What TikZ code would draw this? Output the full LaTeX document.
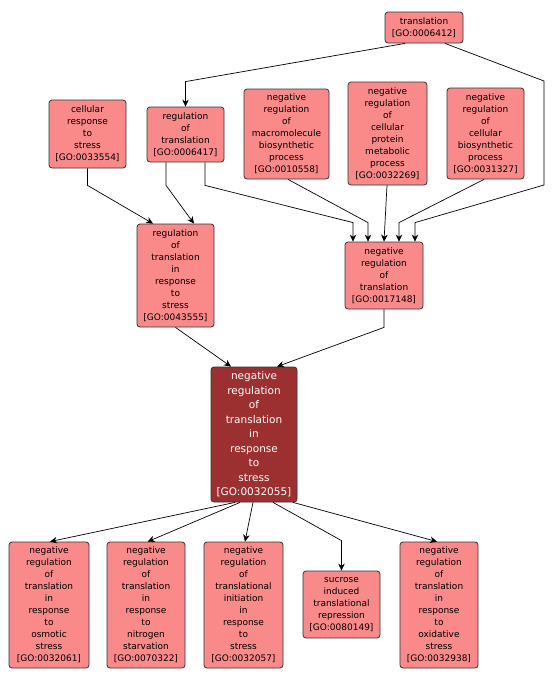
\documentclass[tikz,border=0pt]{standalone}
\usepackage{fontspec}
\setmainfont{DejaVu Sans}
\usetikzlibrary{arrows.meta,calc}
\definecolor{gopink}{HTML}{FA8A8A}
\definecolor{gomain}{HTML}{9C3030}
\definecolor{goedge}{HTML}{333333}
\begin{document}
\begin{tikzpicture}[x=1pt,y=-1pt,
  gobox/.style={draw=goedge,line width=0.8pt,fill=gopink,rounded corners=3pt,
    inner sep=0pt,align=center,font=\fontsize{9}{12}\selectfont,text=black},
  mainbox/.style={draw=goedge,line width=0.8pt,fill=gomain,rounded corners=3pt,
    inner sep=0pt,align=center,font=\fontsize{10.5}{14.5}\selectfont,text=white},
  edge/.style={draw=black,line width=0.7pt,-{Stealth[length=7pt,width=6.5pt,inset=2.2pt]}}]
\useasboundingbox (0,0) rectangle (554,681);
\fill[white] (0,0) rectangle (554,681);

\node[gobox,minimum width=78pt,minimum height=31pt] (trans) at (424,27.5) {translation\\{}[GO:0006412]};
\node[gobox,minimum width=77pt,minimum height=68pt] (crs) at (87.5,134) {cellular\\response\\to\\stress\\{}[GO:0033554]};
\node[gobox,minimum width=77pt,minimum height=55pt] (regt) at (185.5,134.5) {regulation\\of\\translation\\{}[GO:0006417]};
\node[gobox,minimum width=85pt,minimum height=90pt] (macro) at (286.5,134) {negative\\regulation\\of\\macromolecule\\biosynthetic\\process\\{}[GO:0010558]};
\node[gobox,minimum width=79pt,minimum height=103pt] (prot) at (387.5,133.5) {negative\\regulation\\of\\cellular\\protein\\metabolic\\process\\{}[GO:0032269]};
\node[gobox,minimum width=77pt,minimum height=91pt] (bios) at (485.5,133.5) {negative\\regulation\\of\\cellular\\biosynthetic\\process\\{}[GO:0031327]};
\node[gobox,minimum width=77pt,minimum height=103pt] (rtrs) at (175.5,275.5) {regulation\\of\\translation\\in\\response\\to\\stress\\{}[GO:0043555]};
\node[gobox,minimum width=78pt,minimum height=67pt] (nrt) at (384,275.5) {negative\\regulation\\of\\translation\\{}[GO:0017148]};
\node[mainbox,minimum width=86pt,minimum height=135pt] (main) at (254,434.5) {negative\\regulation\\of\\translation\\in\\response\\to\\stress\\{}[GO:0032055]};
\node[gobox,minimum width=80pt,minimum height=126pt] (b1) at (49,605) {negative\\regulation\\of\\translation\\in\\response\\to\\osmotic\\stress\\{}[GO:0032061]};
\node[gobox,minimum width=78pt,minimum height=126pt] (b2) at (146,605) {negative\\regulation\\of\\translation\\in\\response\\to\\nitrogen\\starvation\\{}[GO:0070322]};
\node[gobox,minimum width=79pt,minimum height=126pt] (b3) at (243.5,605) {negative\\regulation\\of\\translational\\initiation\\in\\response\\to\\stress\\{}[GO:0032057]};
\node[gobox,minimum width=77pt,minimum height=67pt] (suc) at (341.5,604.5) {sucrose\\induced\\translational\\repression\\{}[GO:0080149]};
\node[gobox,minimum width=78pt,minimum height=126pt] (ox) at (439,605) {negative\\regulation\\of\\translation\\in\\response\\to\\oxidative\\stress\\{}[GO:0032938]};

% edges
\draw[edge] ($(trans.south)+(-19,0)$) -- ($(regt.north)+(0,-25)$) -- (regt.north);
\draw[edge] ($(trans.south)+(21,0)$) -- (544,81) -- (544,185) -- ($(nrt.north)+(31,-19)$) -- ($(nrt.north)+(31,0)$);
\draw[edge] ($(bios.south)+(-1.5,0)$) -- ($(nrt.north)+(15,-19)$) -- ($(nrt.north)+(15,0)$);
\draw[edge] ($(prot.south)+(-0.5,0)$) -- (nrt.north);
\draw[edge] ($(macro.south)+(1.5,0)$) -- ($(nrt.north)+(-16,-19)$) -- ($(nrt.north)+(-16,0)$);
\draw[edge] ($(regt.south)+(19.5,0)$) -- ($(regt.south)+(19.5,23)$) -- ($(nrt.north)+(-31,-19)$) -- ($(nrt.north)+(-31,0)$);
\draw[edge] ($(regt.south)+(-19.5,0)$) -- ($(regt.south)+(-19.5,23)$) -- ($(rtrs.north)+(18.5,0)$);
\draw[edge] (crs.south) -- ($(crs.south)+(0,17)$) -- ($(rtrs.north)+(-22.5,0)$);
\draw[edge] (rtrs.south) -- ($(main.north)+(-23,0)$);
\draw[edge] (nrt.south) -- ($(nrt.south)+(0,18)$) -- ($(main.north)+(23,0)$);
\draw[edge] ($(main.south)+(-19,0)$) -- ($(b1.north)+(1,0)$);
\draw[edge] ($(main.south)+(-14,0)$) -- ($(b2.north)+(1.7,0)$);
\draw[edge] ($(main.south)+(-1,0)$) -- ($(b3.north)+(1.5,0)$);
\draw[edge] ($(main.south)+(19,0)$) -- ($(suc.north)+(0,-30)$) -- (suc.north);
\draw[edge] ($(main.south)+(39,0)$) -- ($(ox.north)+(-2,0)$);
\end{tikzpicture}
\end{document}
